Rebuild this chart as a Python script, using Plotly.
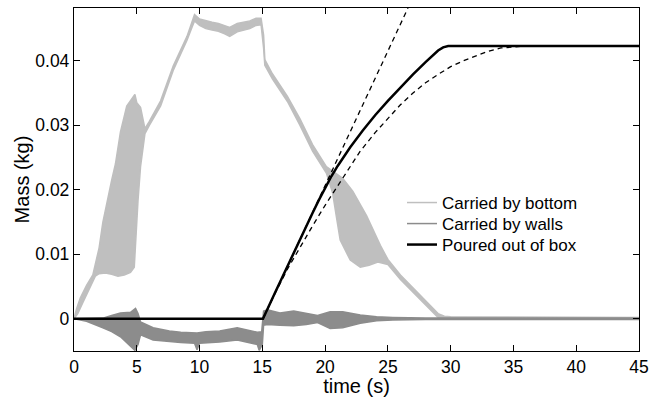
import plotly.graph_objects as go

# ---- data ----
# Carried by bottom: noisy band, upper and lower envelopes
bottom_up_t = [0, 0.2, 0.5, 1.0, 1.5, 1.7, 2.0, 2.3, 2.7, 3.0, 3.3, 3.7, 4.2, 4.6, 4.85, 5.0, 5.3, 5.65,
               6.0, 6.9, 7.9, 9.0, 9.4, 9.6, 10.0, 10.5, 11.0, 11.5, 12.0, 12.4, 13.0, 13.5, 14.0, 14.5,
               14.9, 15.1, 15.2, 15.8, 17.0, 18.0, 19.0, 20.1, 21.0, 21.4, 22.2, 23.3, 24.4, 25.0, 26.0,
               27.0, 28.0, 29.0, 29.5, 30.0, 45.0]
bottom_up_m = [0, 0.0015, 0.0032, 0.0052, 0.0068, 0.0085, 0.0110, 0.0150, 0.0190, 0.0215, 0.0240, 0.0290,
               0.0330, 0.0340, 0.0348, 0.0335, 0.0328, 0.0295, 0.0306, 0.0338, 0.0392, 0.0438, 0.0460,
               0.0472, 0.0465, 0.0462, 0.0460, 0.0458, 0.0455, 0.0452, 0.0458, 0.0460, 0.0462, 0.0466,
               0.0466, 0.0440, 0.0402, 0.0380, 0.0345, 0.0310, 0.0270, 0.0236, 0.0224, 0.0218, 0.0198,
               0.0160, 0.0114, 0.0092, 0.0068, 0.0048, 0.0028, 0.0008, 0.0004, 0.0003, 0.0002]
bottom_lo_t = [0, 0.3, 0.7, 1.2, 1.7, 2.0, 2.5, 3.0, 3.5, 4.0, 4.5, 4.8, 4.9, 5.1, 5.3, 5.65, 6.0, 6.9,
               7.9, 9.0, 9.4, 9.6, 10.0, 10.5, 11.0, 11.5, 12.0, 12.4, 13.0, 13.5, 14.0, 14.5, 14.9, 15.1,
               15.2, 15.8, 17.0, 18.0, 19.0, 20.1, 20.6, 20.9, 21.2, 22.0, 22.8, 23.5, 24.2, 24.6, 25.0,
               26.0, 27.0, 28.0, 29.0, 29.5, 30.0, 45.0]
bottom_lo_m = [0, 0.0008, 0.0025, 0.0045, 0.0066, 0.0070, 0.0071, 0.0069, 0.0066, 0.0068, 0.0072, 0.0080,
               0.0118, 0.0184, 0.0236, 0.0287, 0.0300, 0.0330, 0.0385, 0.0432, 0.0452, 0.0462, 0.0455,
               0.0450, 0.0448, 0.0446, 0.0442, 0.0438, 0.0445, 0.0448, 0.0450, 0.0455, 0.0456, 0.0420,
               0.0393, 0.0372, 0.0337, 0.0300, 0.0260, 0.0226, 0.0195, 0.0158, 0.0122, 0.0091, 0.0080,
               0.0083, 0.0088, 0.0086, 0.0084, 0.0061, 0.0041, 0.0021, 0.0002, 0.0000, 0.0000, 0.0000]

# Carried by walls: noisy band, upper and lower envelopes
walls_up_t = [0, 1.0, 2.3, 3.0, 3.7, 4.5, 4.9, 5.1, 5.3, 6.3, 7.6, 8.5, 9.8, 10.5, 11.6, 13.0, 13.8,
              14.6, 14.95, 15.1, 15.4, 16.4, 17.5, 18.5, 19.4, 20.4, 21.4, 22.8, 24.1, 25.4, 28.0, 45.0]
walls_up_m = [0, 0.0000, 0.0001, 0.0005, 0.0009, 0.0010, 0.0016, 0.0008, -0.0005, -0.0014, -0.0019,
              -0.0021, -0.0022, -0.0020, -0.0019, -0.0014, -0.0018, -0.0021, -0.0020, 0.0012, 0.0014,
              0.0009, 0.0012, 0.0008, 0.0005, 0.0011, 0.0011, 0.0006, 0.0003, 0.0002, 0.0001, 0.0001]
walls_lo_t = [0, 1.0, 2.3, 3.0, 3.7, 4.5, 4.85, 5.1, 5.3, 6.3, 7.6, 8.5, 9.6, 9.8, 10.0, 11.6, 13.0,
              14.0, 14.6, 14.75, 15.0, 15.1, 15.4, 16.4, 17.5, 18.5, 19.4, 20.4, 21.4, 22.8, 24.1, 25.4,
              28.0, 45.0]
walls_lo_m = [0, -0.0004, -0.0014, -0.0020, -0.0028, -0.0043, -0.0049, -0.0040, -0.0025, -0.0033,
              -0.0036, -0.0037, -0.0038, -0.0048, -0.0038, -0.0036, -0.0033, -0.0037, -0.0040, -0.0049,
              -0.0040, -0.0010, -0.0009, -0.0010, -0.0011, -0.0009, -0.0006, -0.0015, -0.0014, -0.0007,
              -0.0003, -0.0002, -0.0001, -0.0001]

# Poured out of box
poured_t = [0, 15.05, 16.0, 17.0, 18.0, 19.0, 19.5, 20.0, 20.5, 21.0, 21.5, 22.0, 23.0, 24.0, 25.0,
            26.0, 27.0, 28.0, 29.0, 29.4, 29.8, 45.0]
poured_m = [0, 0, 0.0040, 0.0082, 0.0124, 0.0164, 0.0184, 0.0203, 0.0221, 0.0237, 0.0252, 0.0266,
            0.0292, 0.0316, 0.0338, 0.0359, 0.0379, 0.0398, 0.0416, 0.0421, 0.0423, 0.0423]

# Dashed model curves
lin_t = [15.05, 26.6]
lin_m = [0, 0.0482]
exp_t = [15.05, 16.0, 17.0, 18.0, 19.0, 20.0, 21.0, 22.0, 22.8, 24.0, 25.0, 26.0, 27.0, 28.0, 29.0,
         30.0, 31.0, 32.0, 33.0, 34.0, 35.0, 36.0]
exp_m = [0, 0.0039, 0.0077, 0.0111, 0.0144, 0.0176, 0.0206, 0.0236, 0.0260, 0.0289, 0.0311, 0.0332,
         0.0350, 0.0366, 0.0379, 0.0391, 0.0400, 0.0408, 0.0415, 0.0420, 0.0422, 0.0423]

x_ticks = [0, 5, 10, 15, 20, 25, 30, 35, 40, 45]
y_ticks = [0, 0.01, 0.02, 0.03, 0.04]
y_tick_text = ["0", "0.01", "0.02", "0.03", "0.04"]

LIGHT = "#bfbfbf"
MID = "#8c8c8c"
FONT = "Liberation Sans, Arial, Helvetica, sans-serif"

fig = go.Figure()

fig.add_trace(go.Scatter(x=bottom_up_t, y=bottom_up_m, mode="lines", name="Carried by bottom",
                         line=dict(color=LIGHT, width=1.5), showlegend=True, legend="legend"))
fig.add_trace(go.Scatter(x=bottom_lo_t, y=bottom_lo_m, mode="lines", fill="tonexty",
                         fillcolor=LIGHT, line=dict(color=LIGHT, width=1.5), showlegend=False,
                         hoverinfo="skip"))
fig.add_trace(go.Scatter(x=walls_up_t, y=walls_up_m, mode="lines", name="Carried by walls",
                         line=dict(color=MID, width=1.5), showlegend=True, legend="legend2"))
fig.add_trace(go.Scatter(x=walls_lo_t, y=walls_lo_m, mode="lines", fill="tonexty",
                         fillcolor=MID, line=dict(color=MID, width=1.5), showlegend=False,
                         hoverinfo="skip"))
fig.add_trace(go.Scatter(x=lin_t, y=lin_m, mode="lines", showlegend=False,
                         line=dict(color="black", width=1.3, dash="5px,4px")))
fig.add_trace(go.Scatter(x=exp_t, y=exp_m, mode="lines", showlegend=False,
                         line=dict(color="black", width=1.3, dash="5px,4px")))
fig.add_trace(go.Scatter(x=poured_t, y=poured_m, mode="lines", name="Poured out of box",
                         line=dict(color="black", width=2.5), showlegend=True, legend="legend3"))

axis_common = dict(showline=True, linecolor="black", linewidth=1.3, mirror="ticks",
                   ticks="inside", ticklen=6, tickwidth=1.3, tickcolor="black",
                   showgrid=False, zeroline=False, automargin=False,
                   tickfont=dict(family=FONT, size=17.5, color="black"))

legend_common = dict(x=0.5805, xanchor="left", yanchor="top", bgcolor="rgba(0,0,0,0)",
                     borderwidth=0, font=dict(family=FONT, size=17, color="black"))

fig.update_layout(
    width=660, height=397,
    margin=dict(l=74, r=21, t=8, b=46),
    paper_bgcolor="white", plot_bgcolor="white",
    font=dict(family=FONT, color="black"),
    xaxis=dict(range=[0, 45], tickvals=x_ticks,
               title=dict(text="time (s)", font=dict(family=FONT, size=20), standoff=2),
               **axis_common),
    yaxis=dict(range=[-0.005, 0.0482], tickvals=y_ticks, ticktext=y_tick_text,
               title=dict(text="Mass (kg)", font=dict(family=FONT, size=20), standoff=0),
               **axis_common),
    legend=dict(y=0.484, **legend_common),
    legend2=dict(y=0.4227, **legend_common),
    legend3=dict(y=0.3615, **legend_common),
)

fig.write_html("out.html")
